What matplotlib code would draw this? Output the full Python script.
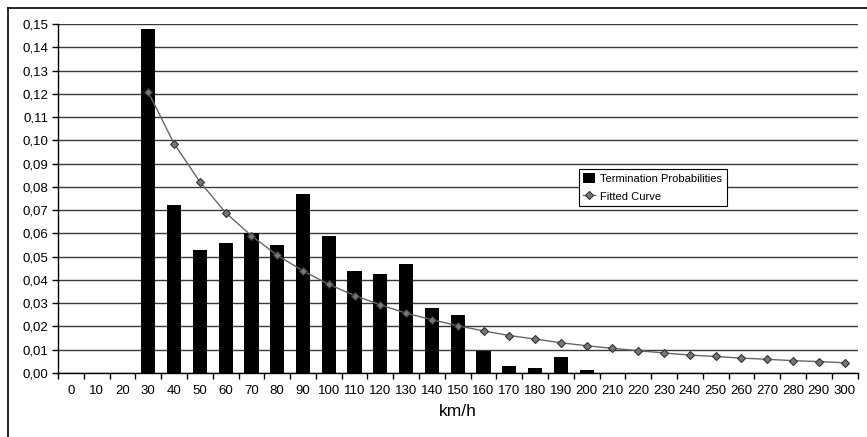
import matplotlib
matplotlib.use("Agg")
import matplotlib.pyplot as plt
from matplotlib.lines import Line2D
import numpy as np

speeds = list(range(0, 301, 10))
tick_labels = [str(s) for s in speeds]
termination = [0, 0, 0, 0.148, 0.072, 0.053, 0.056, 0.060, 0.055, 0.077, 0.059,
               0.044, 0.0425, 0.047, 0.028, 0.025, 0.0095, 0.0028, 0.0022, 0.0068,
               0.0012, 0, 0, 0, 0, 0, 0, 0, 0, 0, 0]
fit_speeds = list(range(30, 301, 10))
fitted = [0.1207, 0.0986, 0.0822, 0.0689, 0.0590, 0.0506, 0.0439, 0.0381, 0.0333,
          0.0293, 0.0257, 0.0229, 0.0203, 0.0181, 0.0161, 0.0146, 0.0130, 0.0117,
          0.0106, 0.0096, 0.0086, 0.0077, 0.0071, 0.0064, 0.0059, 0.0053, 0.0049,
          0.0044]
y_ticks = [i / 100 for i in range(0, 16)]

plt.rcParams['font.family'] = ['Liberation Sans', 'DejaVu Sans']

fig = plt.figure(figsize=(8.67, 4.37), dpi=100)
ax = fig.add_axes([58 / 867, 1 - 373 / 437, (857.5 - 58) / 867, (373 - 24) / 437])

x = np.arange(len(speeds))
bars = ax.bar(x, termination, width=0.55, color='black', zorder=3,
              label='Termination Probabilities')
fx = [speeds.index(s) for s in fit_speeds]
line, = ax.plot(fx, fitted, color='#666666', lw=1.0, marker='D', ms=4.5,
                mfc='#777777', mec='#333333', mew=0.8, zorder=4, label='Fitted Curve')

ax.set_xlim(-0.5, len(speeds) - 0.5)
ax.set_ylim(0, 0.15)
ax.set_yticks(y_ticks)
ax.set_yticklabels([f"{v:.2f}".replace('.', ',') for v in y_ticks], fontsize=9.5)
ax.set_xticks(x)
ax.set_xticklabels(tick_labels, fontsize=9.5)
ax.tick_params(axis='x', which='major', length=0, pad=9)
ax.set_xticks(np.arange(-0.5, len(speeds) + 0.5, 1), minor=True)
ax.tick_params(axis='x', which='minor', length=4, width=1, color='black')
ax.tick_params(axis='y', length=4, width=1, pad=3)

ax.yaxis.grid(True, color='#3a3a3a', lw=1.0, zorder=0)
ax.set_axisbelow(True)
for s in ['top', 'right']:
    ax.spines[s].set_visible(False)
for s in ['left', 'bottom']:
    ax.spines[s].set_linewidth(1.0)
    ax.spines[s].set_zorder(5)

ax.set_xlabel('km/h', fontsize=12.5, labelpad=5)

leg = ax.legend([bars, line], ['Termination Probabilities', 'Fitted Curve'],
                loc='upper left', bbox_to_anchor=((579 - 58) / 799.5, (373 - 169) / 349),
                frameon=True, fancybox=False, edgecolor='black', framealpha=1,
                prop={'size': 8},
                handlelength=1.0, handleheight=1.0, handletextpad=0.5,
                borderpad=0.4, labelspacing=0.6, borderaxespad=0)
leg.get_frame().set_linewidth(0.8)

fig.add_artist(Line2D([8 / 867, 8 / 867], [0, 1 - 7.5 / 437], color='black', lw=1.2,
                      transform=fig.transFigure))
fig.add_artist(Line2D([8 / 867, 1], [1 - 7.5 / 437, 1 - 7.5 / 437], color='black', lw=1.2,
                      transform=fig.transFigure))

fig.savefig('out.png', dpi=100)
